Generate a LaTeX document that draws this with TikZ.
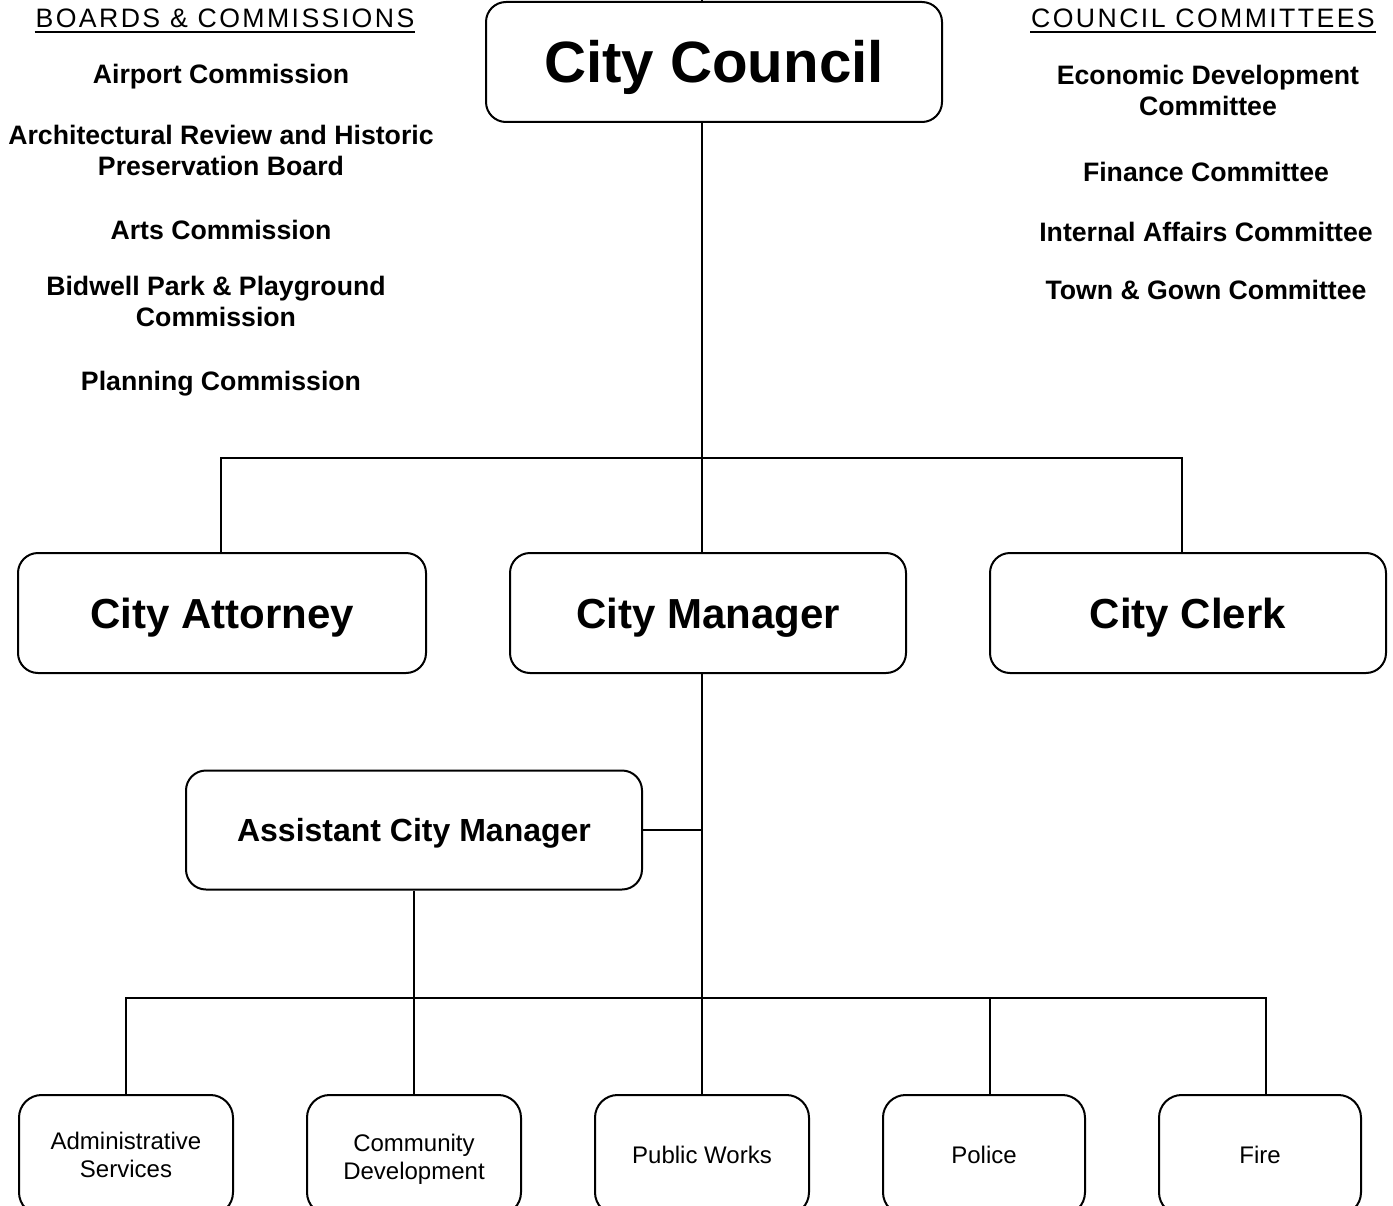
\documentclass[tikz,border=0pt]{standalone}
\usepackage{fontspec}
\setmainfont{Liberation Sans}
\begin{document}
\begin{tikzpicture}[x=0.75pt,y=-0.75pt,
  line width=1.5pt,
  box/.style={draw=black, rounded corners=15pt, inner sep=0pt, align=center, text depth=0pt},
  unitbox/.style={draw=black, rounded corners=17pt, inner sep=0pt, align=center,
              minimum width=160.5pt, minimum height=90pt,
              font=\fontsize{18pt}{21pt}\selectfont},
  unittext/.style={inner sep=0pt, align=center, font=\fontsize{18pt}{21pt}\selectfont},
  head/.style={inner sep=0pt, font=\addfontfeature{LetterSpace=9}\fontsize{20pt}{23pt}\selectfont,
              text height=14.3pt, text depth=0pt},
  item/.style={inner sep=0pt, align=center, font=\bfseries\fontsize{20pt}{23.25pt}\selectfont}
]
\useasboundingbox (0,0) rectangle (1393,1206);
\clip (0,0) rectangle (1393,1206);

% governing body and officers
\node[box, minimum width=342pt, minimum height=90pt, text height=31.3pt,
      font=\bfseries\fontsize{43.7pt}{48pt}\selectfont] (council) at (714,62) {City Council};
\node[box, minimum width=306pt, minimum height=90pt, text height=22.6pt,
      font=\bfseries\fontsize{31.5pt}{36pt}\selectfont] (attorney) at (222,613) {City Attorney};
\node[box, minimum width=297pt, minimum height=90pt, text height=22.6pt,
      font=\bfseries\fontsize{31.5pt}{36pt}\selectfont] (manager) at (708,613) {City Manager};
\node[box, minimum width=297pt, minimum height=90pt, text height=22.6pt,
      font=\bfseries\fontsize{31.5pt}{36pt}\selectfont] (clerk) at (1188,613) {City Clerk};
\node[box, minimum width=342pt, minimum height=89.25pt, text height=17.2pt,
      font=\bfseries\fontsize{24pt}{28pt}\selectfont] (acm) at (414,830) {Assistant City Manager};

% departments
\node[unitbox] (admin)    at (126,1155) {Administrative\\Services};
\node[unitbox, label={[unittext, yshift=-3pt]center:Community\\Development}] (commdev) at (414,1155) {};
\node[unitbox] (pubworks) at (702,1155) {Public Works};
\node[unitbox, minimum width=151.5pt] (police) at (984,1155) {Police};
\node[unitbox, minimum width=151.5pt] (fire)   at (1260,1155) {Fire};

% boards and commissions
\node[head] (bchead) at (225,18) {BOARDS \& COMMISSIONS};
\draw[line width=1.4pt] ([yshift=-3.2pt]bchead.base west) -- ([yshift=-3.2pt]bchead.base east);
\node[item] (b1) at (221,77) {Airport Commission};
\node[item] (b2) at (221,150) {Architectural Review and Historic\\Preservation Board};
\node[item] (b3) at (221,230) {Arts Commission};
\node[item] (b4) at (216,301) {Bidwell Park \& Playground\\Commission};
\node[item] (b5) at (221,384) {Planning Commission};

% council committees
\node[head] (cchead) at (1203,18) {COUNCIL COMMITTEES};
\draw[line width=1.4pt] ([yshift=-3.2pt]cchead.base west) -- ([yshift=-3.2pt]cchead.base east);
\node[item] (c1) at (1208,90) {Economic Development\\Committee};
\node[item] (c2) at (1206,172) {Finance Committee};
\node[item] (c3) at (1206,232) {Internal Affairs Committee};
\node[item] (c4) at (1206,290) {Town \& Gown Committee};

% junction points
\coordinate (ctop) at (702,0);
\coordinate (spine) at (702,458);
\coordinate (busL) at (221,458);
\coordinate (busR) at (1182,458);
\coordinate (acmj) at (702,830);
\coordinate (lowL) at (126,998);
\coordinate (lowR) at (1266,998);
\coordinate (polj) at (990,998);

% connectors
\draw (ctop) -- (ctop |- council.north);
\draw (council.south -| spine) -- (manager.north -| spine);
\draw (attorney.north -| busL) -- (busL) -- (busR) -- (clerk.north -| busR);
\draw (manager.south -| spine) -- (pubworks.north -| spine);
\draw (acm.east) -- (acmj);
\draw (acm.south) -- (commdev.north);
\draw (admin.north) -- (lowL) -- (lowR) -- (fire.north -| lowR);
\draw (polj) -- (police.north -| polj);
\end{tikzpicture}
\end{document}
